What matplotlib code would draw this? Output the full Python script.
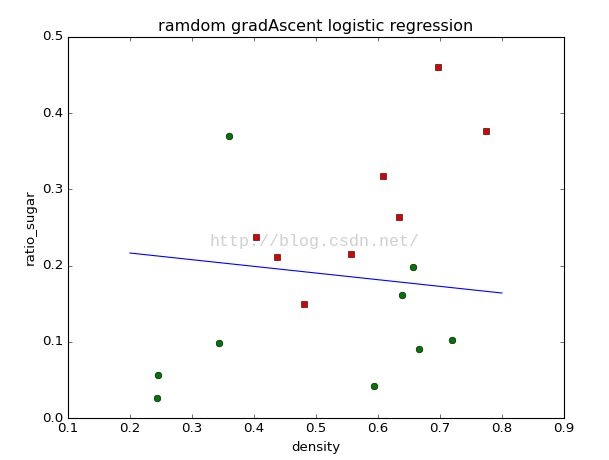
import matplotlib
matplotlib.use('Agg')
import matplotlib.pyplot as plt

plt.style.use('classic')

# positive samples (red squares)
x_pos = [0.697, 0.774, 0.608, 0.634, 0.403, 0.437, 0.556, 0.481]
y_pos = [0.460, 0.376, 0.318, 0.264, 0.237, 0.211, 0.215, 0.149]
# negative samples (green circles)
x_neg = [0.360, 0.657, 0.639, 0.343, 0.245, 0.243, 0.593, 0.666, 0.719]
y_neg = [0.370, 0.198, 0.161, 0.099, 0.057, 0.026, 0.042, 0.091, 0.103]
# decision boundary
x_line = [0.2, 0.8]
y_line = [0.2165, 0.164]

fig = plt.figure(figsize=(609 / 80, 460 / 80), dpi=80)
ax = fig.add_subplot(111)
fig.subplots_adjust(left=0.1117, right=0.926, top=0.9196, bottom=0.0913)

ax.plot(x_pos, y_pos, 's', color='#dd0000', mec='k', ms=6, ls='none')
ax.plot(x_neg, y_neg, 'o', color='#007700', mec='k', ms=6, ls='none')
ax.plot(x_line, y_line, '-', color='b', lw=1)

ax.set_xlim(0.1, 0.9)
ax.set_ylim(0.0, 0.5)
ax.set_xlabel('density')
ax.set_ylabel('ratio_sugar')
ax.set_title('ramdom gradAscent logistic regression')

# watermark
ax.text(0.497, 0.232, 'http://blog.csdn.net/', transform=ax.transData,
        family='Liberation Mono', fontsize=15, color='#d0d0d0',
        ha='center', va='center', zorder=0)

plt.savefig('out.png', dpi=80)
